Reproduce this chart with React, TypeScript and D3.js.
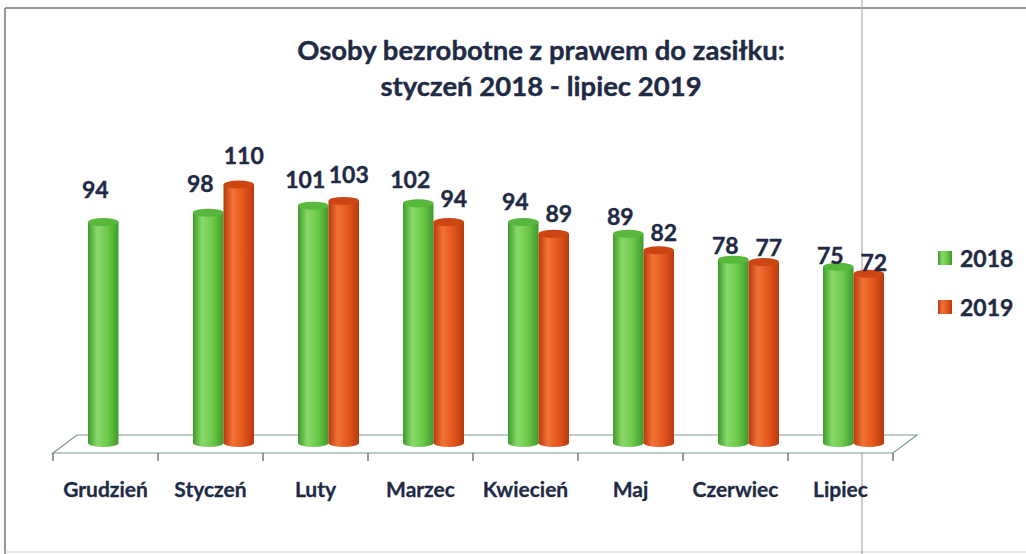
import React from 'react';
import * as d3 from 'd3';

// data
const categories = ['Grudzień', 'Styczeń', 'Luty', 'Marzec', 'Kwiecień', 'Maj', 'Czerwiec', 'Lipiec'];
const seriesNames = ['2018', '2019'];
const values2018: (number | null)[] = [94, 98, 101, 102, 94, 89, 78, 75];
const values2019: (number | null)[] = [null, 110, 103, 94, 89, 82, 77, 72];
const titleLines = ['Osoby bezrobotne z prawem do zasiłku:', 'styczeń 2018 - lipiec 2019'];

const W = 1026;
const H = 554;
const font = 'Lato, "Open Sans", sans-serif';
const ink = '#1f2a44';

const colors: Record<string, { body: string; dark: string; light: string; top: string }> = {
  '2018': { body: '#6cc948', dark: '#3f9a2c', light: '#8ad96a', top: '#58b83c' },
  '2019': { body: '#e4561d', dark: '#b73a0e', light: '#f27236', top: '#cc4614' },
};

export default function App() {
  // floor of the 3d plot
  const frontY = 453;
  const backY = 435;
  const depthX = 24;
  const baseY = 443;

  const x0 = d3.scaleBand<string>().domain(categories).range([53, 893]);
  const x1 = d3.scaleBand<string>().domain(seriesNames).range([35, 96]);
  const y = d3.scaleLinear().domain([0, 120]).range([baseY, 161]);

  const rows = seriesNames.map((s, si) => ({
    name: s,
    values: si === 0 ? values2018 : values2019,
  }));

  const ry = 4;
  const w = x1.bandwidth();
  const ticks = categories.map(c => x0(c)!).concat([x0.range()[1]]);

  return (
    <svg width={W} height={H} style={{ position: 'absolute', left: 0, top: 0, background: '#fff' }}>
      <defs>
        {seriesNames.map(s => (
          <linearGradient key={s} id={'cyl' + s} x1="0" x2="1" y1="0" y2="0">
            <stop offset="0" stopColor={colors[s].dark} />
            <stop offset="0.3" stopColor={colors[s].light} />
            <stop offset="0.65" stopColor={colors[s].body} />
            <stop offset="1" stopColor={colors[s].dark} />
          </linearGradient>
        ))}
      </defs>

      {/* scan frame */}
      <line x1={5} x2={W} y1={8} y2={8} stroke="#6f7480" strokeWidth={1.5} />
      <line x1={5} x2={5} y1={8} y2={H} stroke="#6f7480" strokeWidth={1.5} />
      <line x1={5} x2={W} y1={552} y2={552} stroke="#c8c8cc" strokeWidth={1} />
      <line x1={862} x2={862} y1={0} y2={H} stroke="#b9a3b6" strokeWidth={1.2} />

      {/* title */}
      {titleLines.map((t, i) => (
        <text key={i} x={541} y={60 + i * 36} textAnchor="middle" fontFamily={font}
          fontWeight="bold" fontSize={27.5} fill={ink} stroke={ink} strokeWidth={0.4}>{t}</text>
      ))}

      {/* floor */}
      <path
        d={`M53,${frontY} L893,${frontY} L${893 + depthX},${backY} L${53 + depthX},${backY} Z`}
        fill="#fff" stroke="#7f9c98" strokeWidth={1.2} />
      {ticks.map((t, i) => (
        <line key={i} x1={t} x2={t} y1={frontY} y2={frontY + 8} stroke="#555" strokeWidth={1.2} />
      ))}

      {/* cylinders */}
      {categories.map((c, ci) => (
        <g key={c}>
          {rows.map(r => {
            const v = r.values[ci];
            if (v == null) return null;
            const x = x0(c)! + x1(r.name)!;
            const cx = x + w / 2;
            const yt = y(v);
            const lift = 33 - 3 * ci;
            const lx = cx + (r.name === '2018' ? -8 : 5);
            return (
              <g key={r.name}>
                <ellipse cx={cx} cy={baseY} rx={w / 2} ry={ry} fill={`url(#cyl${r.name})`} />
                <rect x={x} y={yt} width={w} height={baseY - yt} fill={`url(#cyl${r.name})`} />
                <ellipse cx={cx} cy={yt} rx={w / 2} ry={ry} fill={colors[r.name].top} />
                <text x={lx} y={yt - lift} textAnchor="middle" dominantBaseline="central"
                  fontFamily={font} fontWeight="bold" fontSize={23} fill={ink}
                  stroke={ink} strokeWidth={0.4}>{v}</text>
              </g>
            );
          })}
        </g>
      ))}

      {/* category labels */}
      {categories.map(c => (
        <text key={c} x={x0(c)! + x0.bandwidth() / 2} y={488} textAnchor="middle"
          dominantBaseline="central" fontFamily={font} fontWeight="bold" fontSize={21}
          fill={ink} stroke={ink} strokeWidth={0.3}>{c}</text>
      ))}

      {/* legend */}
      {seriesNames.map((s, i) => (
        <g key={s} transform={`translate(938, ${251 + i * 49})`}>
          <rect width={14} height={14} fill={`url(#cyl${s})`} />
          <text x={22} y={7} dominantBaseline="central" fontFamily={font} fontWeight="bold"
            fontSize={23} fill={ink} stroke={ink} strokeWidth={0.4}>{s}</text>
        </g>
      ))}
    </svg>
  );
}
